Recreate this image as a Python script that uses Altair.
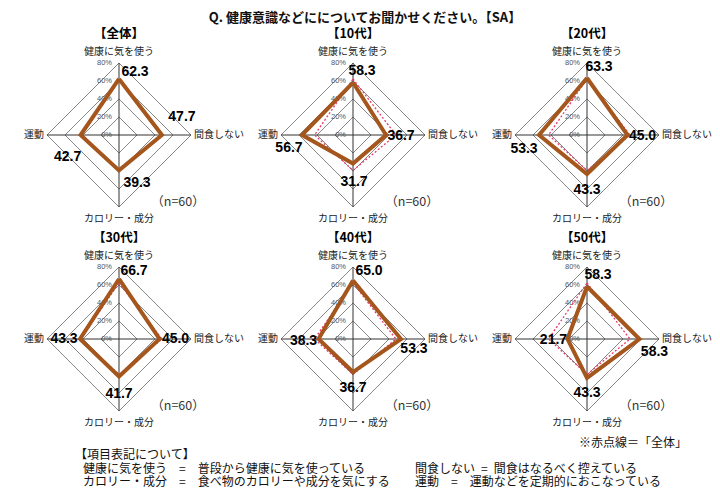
import altair as alt
import pandas as pd

# ---------------- data ----------------
TITLE = "Q.  健康意識などにについてお聞かせください。【SA】"
AXES = ["健康に気を使う", "間食しない", "カロリー・成分", "運動"]
PANEL_TITLES = ["【全体】", "【10代】", "【20代】", "【30代】", "【40代】", "【50代】"]
V_ALL = [62.3, 47.7, 39.3, 42.7]
V_10 = [58.3, 36.7, 31.7, 56.7]
V_20 = [63.3, 45.0, 43.3, 53.3]
V_30 = [66.7, 45.0, 41.7, 43.3]
V_40 = [65.0, 53.3, 36.7, 38.3]
V_50 = [58.3, 58.3, 43.3, 21.7]
SERIES = [V_ALL, V_10, V_20, V_30, V_40, V_50]
N_LABEL = "（n=60）"
TICKS = [0, 20, 40, 60, 80]
TICK_LABELS = ["0%", "20%", "40%", "60%", "80%"]
NOTE = "※赤点線＝「全体」"
LEGEND_HEAD = "【項目表記について】"
SEP = "\u2002\u2002=\u2002\u2002"
SEP2 = "\u2002=\u2002"
LEGEND_LEFT = ["健康に気を使う" + SEP + "普段から健康に気を使っている",
               "カロリー・成分" + SEP + "食べ物のカロリーや成分を気にする"]
LEGEND_RIGHT = ["間食しない" + SEP2 + "間食はなるべく控えている",
                "運動" + SEP + "運動などを定期的におこなっている"]

# ---------------- layout / style ----------------
K = 0.9            # px per percent
PW, PH = 234, 204  # panel size
CXP, CYP = 111, 110  # centre offset (px) inside panel
XDOM = [-CXP / K, (PW - CXP) / K]
YDOM = [-(PH - CYP) / K, CYP / K]
DIRS = [(0, 1), (1, 0), (0, -1), (-1, 0)]  # top, right, bottom, left
# value label offsets in px (dx right, dy down) per panel per axis
LABEL_OFF = [
    [(16, -7), (20, -18), (18, 13), (-13, 22)],
    [(9, -12), (15, 1), (1, 18), (-13, 13)],
    [(12, -11), (15, 1), (0, 16), (-15, 14)],
    [(15, -8), (16, 0), (0, 17), (-16, 0)],
    [(16, -10), (13, 10), (0, 16), (-15, 2)],
    [(11, -12), (15, 13), (0, 15), (-14, 1)],
]
BROWN = "#A5561D"
RED = "#E53B6B"
JP = "Noto Sans CJK JP"
LAT = "Liberation Sans"


def X(f):
    return alt.X(f, type="quantitative", axis=None,
                 scale=alt.Scale(domain=XDOM, nice=False, zero=False))


def Y(f):
    return alt.Y(f, type="quantitative", axis=None,
                 scale=alt.Scale(domain=YDOM, nice=False, zero=False))


def poly_df(vals):
    rows = []
    for i in range(5):
        j = i % 4
        dx, dy = DIRS[j]
        rows.append({"i": i, "x": vals[j] * dx, "y": vals[j] * dy})
    return pd.DataFrame(rows)


grid_rows = []
for lv in TICKS[1:]:
    for i in range(5):
        dx, dy = DIRS[i % 4]
        grid_rows.append({"lv": lv, "i": i, "x": lv * dx, "y": lv * dy})
grid_df = pd.DataFrame(grid_rows)
cross_df = pd.DataFrame({"x": [0, -TICKS[-1]], "y": [-TICKS[-1], 0],
                         "x2": [0, TICKS[-1]], "y2": [TICKS[-1], 0]})
tick_df = pd.DataFrame({"x": [0] * len(TICKS), "y": TICKS, "t": TICK_LABELS})


def panel(idx):
    vals = SERIES[idx]
    layers = []
    layers.append(alt.Chart(grid_df).mark_line(color="#7a7a7a", strokeWidth=0.9)
                  .encode(x=X("x"), y=Y("y"), detail="lv:N", order="i:Q"))
    layers.append(alt.Chart(cross_df).mark_rule(color="#333333", strokeWidth=1)
                  .encode(x=X("x"), y=Y("y"), x2="x2", y2="y2"))
    layers.append(alt.Chart(tick_df).mark_text(align="right", dx=-7, fontSize=7.5,
                                               color="#555555", font=LAT)
                  .encode(x=X("x"), y=Y("y"), text="t:N"))
    if idx > 0:
        layers.append(alt.Chart(poly_df(V_ALL)).mark_line(color=RED, strokeWidth=1.3,
                                                          strokeDash=[2, 2])
                      .encode(x=X("x"), y=Y("y"), order="i:Q"))
    layers.append(alt.Chart(poly_df(vals)).mark_line(color=BROWN, strokeWidth=4,
                                                     strokeJoin="miter")
                  .encode(x=X("x"), y=Y("y"), order="i:Q"))
    lab = []
    for j in range(4):
        dx, dy = DIRS[j]
        ox, oy = LABEL_OFF[idx][j]
        lab.append({"x": vals[j] * dx + ox / K, "y": vals[j] * dy - oy / K,
                    "t": f"{vals[j]:.1f}"})
    layers.append(alt.Chart(pd.DataFrame(lab)).mark_text(fontSize=14, fontWeight="bold",
                                                         font=LAT, color="#000000")
                  .encode(x=X("x"), y=Y("y"), text="t:N"))
    # axis labels
    R = TICKS[-1]
    tb = pd.DataFrame({"x": [0, 0], "y": [R + 11.5 / K, -(R + 11.5 / K)],
                       "t": [AXES[0], AXES[2]]})
    layers.append(alt.Chart(tb).mark_text(fontSize=10, font=JP, color="#222222")
                  .encode(x=X("x"), y=Y("y"), text="t:N"))
    layers.append(alt.Chart(pd.DataFrame({"x": [R], "y": [0], "t": [AXES[1]]}))
                  .mark_text(align="left", dx=3, fontSize=10, font=JP, color="#222222")
                  .encode(x=X("x"), y=Y("y"), text="t:N"))
    layers.append(alt.Chart(pd.DataFrame({"x": [-R], "y": [0], "t": [AXES[3]]}))
                  .mark_text(align="right", dx=-3, fontSize=10, font=JP, color="#222222")
                  .encode(x=X("x"), y=Y("y"), text="t:N"))
    layers.append(alt.Chart(pd.DataFrame({"x": [0], "y": [101.5 / K], "t": [PANEL_TITLES[idx]]}))
                  .mark_text(fontSize=12.5, fontWeight="bold", font=JP, color="#000000")
                  .encode(x=X("x"), y=Y("y"), text="t:N"))
    layers.append(alt.Chart(pd.DataFrame({"x": [59 / K], "y": [-67 / K], "t": [N_LABEL]}))
                  .mark_text(fontSize=12.5, font=JP, color="#333333")
                  .encode(x=X("x"), y=Y("y"), text="t:N"))
    return alt.layer(*layers).properties(width=PW, height=PH)


def txt(s, x, y, size=12, align="left", weight="normal"):
    return (alt.Chart(pd.DataFrame({"t": [s]}))
            .mark_text(align=align, baseline="middle", fontSize=size, font=JP,
                       fontWeight=weight, color="#111111")
            .encode(x=alt.value(x), y=alt.value(y), text="t:N"))


title = alt.layer(txt(TITLE, 357, 10, size=13, align="center", weight="bold")
                  ).properties(width=PW * 3, height=17)

row1 = alt.hconcat(panel(0), panel(1), panel(2), spacing=0, bounds="flush")
row2 = alt.hconcat(panel(3), panel(4), panel(5), spacing=0, bounds="flush")

footer = alt.layer(
    txt(NOTE, 679, 9.5, align="right"),
    txt(LEGEND_HEAD, 67, 21.5),
    txt(LEGEND_LEFT[0], 75, 35.5),
    txt(LEGEND_LEFT[1], 75, 49),
    txt(LEGEND_RIGHT[0], 407, 35.5),
    txt(LEGEND_RIGHT[1], 407, 49),
).properties(width=PW * 3, height=55)

chart = alt.vconcat(title, row1, row2, footer, spacing=0).properties(
    padding=0, background="white"
).configure_view(strokeWidth=0)

chart.save("out.html", embed_options={"renderer": "svg", "actions": False})
